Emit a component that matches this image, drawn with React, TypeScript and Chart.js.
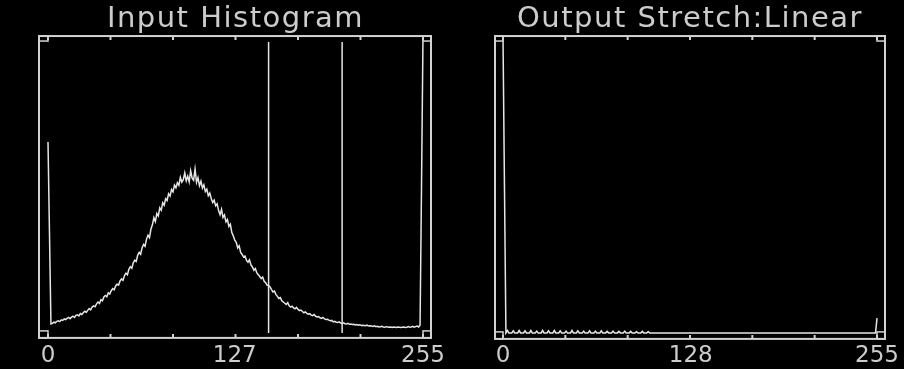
import React, { useEffect, useRef } from "react";
import { Chart, registerables } from "chart.js";

Chart.register(...registerables);

// ---- data ----
const inputTitle = "Input Histogram";
const outputTitle = "Output Stretch:Linear";
const inputTickLabels = [0, 127, 255];
const outputTickLabels = [0, 128, 255];
const inputMarkers = [150, 200];
const markerTop = 98;
const binMax = 255;
const yMax = 100;
const minorTicks = [0, 42.5, 85, 127.5, 170, 212.5, 255];

const inputCounts = [
  64.3, 33.7, 3.0, 3.2, 3.6, 3.4, 3.9, 4.1, 3.8, 4.4, 4.2, 4.7, 4.5, 4.9, 5.2, 4.8,
  5.3, 5.6, 5.2, 5.9, 6.1, 5.7, 6.5, 6.2, 6.8, 7.3, 6.9, 7.6, 8.2, 7.8, 8.7, 9.1,
  8.8, 9.8, 10.4, 9.9, 11.2, 10.8, 12.1, 12.6, 12.2, 13.5, 13.1, 14.2, 14.9, 14.5, 15.8, 16.4,
  16.1, 17.5, 18.2, 17.7, 19.3, 20.1, 19.6, 21.4, 22.3, 21.8, 23.6, 24.5, 24.1, 26.2, 27.1, 26.5,
  28.7, 29.8, 29.2, 31.6, 32.9, 32.1, 35.0, 36.4, 38.8, 37.5, 40.2, 39.4, 42.1, 41.3, 43.8, 43.0,
  45.2, 44.6, 46.9, 46.1, 48.3, 47.5, 49.8, 48.9, 50.6, 49.7, 52.4, 50.8, 51.6, 53.9, 51.2, 52.8,
  50.9, 54.6, 52.1, 51.4, 55.2, 50.7, 52.3, 49.6, 51.1, 48.8, 49.9, 47.6, 48.4, 46.2, 47.1, 45.3,
  43.9, 44.7, 42.8, 43.5, 41.2, 39.8, 41.6, 38.9, 39.7, 37.4, 38.2, 35.9, 36.6, 33.8, 32.7, 31.2,
  30.5, 28.6, 29.3, 27.1, 26.4, 25.6, 25.9, 24.4, 23.8, 24.6, 22.9, 22.2, 21.1, 21.7, 20.2, 19.6,
  19.0, 18.3, 18.8, 17.4, 16.9, 16.1, 15.9, 15.5, 14.6, 13.8, 14.1, 12.9, 12.3, 11.6, 11.9, 10.8,
  10.4, 10.0, 9.6, 10.2, 9.1, 8.7, 9.0, 8.4, 8.1, 8.6, 7.9, 7.5, 7.7, 7.2, 6.8, 7.1,
  6.6, 6.3, 6.5, 6.0, 5.8, 6.2, 5.6, 5.4, 5.5, 5.1, 4.9, 5.2, 4.7, 4.5, 4.6, 4.3,
  4.1, 4.2, 3.7, 3.9, 3.6, 3.5, 3.7, 3.3, 3.2, 3.4, 3.1, 3.0, 3.2, 2.9, 3.0, 2.8,
  2.9, 2.7, 2.8, 2.6, 2.7, 2.5, 2.6, 2.5, 2.4, 2.6, 2.3, 2.4, 2.3, 2.2, 2.4, 2.1,
  2.2, 2.0, 2.1, 2.2, 2.0, 1.9, 2.1, 2.0, 1.9, 2.0, 1.8, 2.0, 1.9, 1.8, 2.0, 1.9,
  1.8, 1.9, 2.0, 1.8, 1.9, 2.1, 1.9, 2.0, 2.2, 1.9, 2.1, 2.3, 2.0, 2.6, 49.8, 100,
];

const outputCounts = [
  100, 49.2, 0, 0.8, 0, 0, 0, 0.7, 0, 0, 0, 0.8, 0, 0, 0, 0.7,
  0, 0, 0, 0.8, 0, 0, 0, 0.6, 0, 0, 0, 0.8, 0, 0, 0, 0.7,
  0, 0, 0, 0.8, 0, 0, 0, 0.7, 0, 0, 0, 0.6, 0, 0, 0, 0.8,
  0, 0, 0, 0.7, 0, 0, 0, 0.6, 0, 0, 0, 0.7, 0, 0, 0, 0.6,
  0, 0, 0, 0.7, 0, 0, 0, 0.5, 0, 0, 0, 0.6, 0, 0, 0, 0.5,
  0, 0, 0, 0.6, 0, 0, 0, 0.5, 0, 0, 0, 0.4, 0, 0, 0, 0.5,
  0, 0, 0, 0.4, 0, 0, 0, 0, 0, 0, 0, 0, 0, 0, 0, 0,
  0, 0, 0, 0, 0, 0, 0, 0, 0, 0, 0, 0, 0, 0, 0, 0,
  0, 0, 0, 0, 0, 0, 0, 0, 0, 0, 0, 0, 0, 0, 0, 0,
  0, 0, 0, 0, 0, 0, 0, 0, 0, 0, 0, 0, 0, 0, 0, 0,
  0, 0, 0, 0, 0, 0, 0, 0, 0, 0, 0, 0, 0, 0, 0, 0,
  0, 0, 0, 0, 0, 0, 0, 0, 0, 0, 0, 0, 0, 0, 0, 0,
  0, 0, 0, 0, 0, 0, 0, 0, 0, 0, 0, 0, 0, 0, 0, 0,
  0, 0, 0, 0, 0, 0, 0, 0, 0, 0, 0, 0, 0, 0, 0, 0,
  0, 0, 0, 0, 0, 0, 0, 0, 0, 0, 0, 0, 0, 0, 0, 0,
  0, 0, 0, 0, 0, 0, 0, 0, 0, 0, 0, 0, 0, 0, 0, 5,
];

// ---- styling ----
const FG = "#e6e6e6";
const FRAME = "#d2d2d2";
const TEXT = "#cccccc";
const FONT = "'DejaVu Sans', sans-serif";
const CANVAS_W = 452;
const CANVAS_H = 380;

function toPoints(values: number[]) {
  return values.map((y, x) => ({ x, y }));
}

// Wider letter spacing only while the title is drawn (mimics the stroke font)
const spacingPlugin = {
  id: "spacing",
  beforeUpdate(chart: any) {
    (chart.ctx as any).letterSpacing = "0px";
  },
  beforeDraw(chart: any) {
    (chart.ctx as any).letterSpacing = "1.5px";
  },
  beforeDatasetsDraw(chart: any) {
    (chart.ctx as any).letterSpacing = "0px";
  },
  afterDraw(chart: any) {
    (chart.ctx as any).letterSpacing = "0px";
  },
};

const framePlugin = {
  id: "frame",
  afterDraw(chart: any, _args: any, opts: any) {
    const { ctx, chartArea: a } = chart;
    const xs = chart.scales.x;
    const L = a.left - opts.padL;
    const R = a.right + opts.padR;
    const T = a.top;
    const B = a.bottom + opts.padB;
    ctx.save();
    ctx.strokeStyle = FRAME;
    ctx.lineWidth = 2;
    ctx.strokeRect(L, T, R - L, B - T);
    ctx.lineWidth = 1.5;
    ctx.strokeRect(L, T, a.left - L, 5);
    ctx.strokeRect(a.right, T, R - a.right, 5);
    ctx.strokeRect(L, B - 7, a.left - L, 7);
    ctx.strokeRect(a.right, B - 7, R - a.right, 7);
    ctx.lineWidth = 2;
    for (const v of minorTicks) {
      const px = xs.getPixelForValue(v);
      ctx.beginPath();
      ctx.moveTo(px, T);
      ctx.lineTo(px, T + 4);
      ctx.moveTo(px, B);
      ctx.lineTo(px, B - 4);
      ctx.stroke();
    }
    ctx.restore();
  },
};

function makeConfig(
  values: number[],
  title: string,
  tickLabels: number[],
  markers: number[],
  pad: { left: number; right: number },
  frame: { padL: number; padR: number; padB: number }
): any {
  const datasets: any[] = [
    {
      data: toPoints(values),
      borderColor: FG,
      borderWidth: 1.5,
      pointRadius: 0,
      tension: 0,
      clip: 3,
    },
  ];
  for (const m of markers) {
    datasets.push({
      data: [
        { x: m, y: 0 },
        { x: m, y: markerTop },
      ],
      borderColor: FG,
      borderWidth: 1.5,
      pointRadius: 0,
      clip: 3,
    });
  }
  return {
    type: "line",
    data: { datasets },
    options: {
      animation: false,
      responsive: false,
      maintainAspectRatio: false,
      layout: { padding: { left: pad.left, right: pad.right, top: 0, bottom: 0 } },
      plugins: {
        legend: { display: false },
        tooltip: { enabled: false },
        title: {
          display: true,
          text: title,
          color: TEXT,
          font: { family: FONT, size: 29, weight: "normal", lineHeight: 1.16 },
          padding: { top: 2.4, bottom: 0 },
        },
        frame,
      },
      scales: {
        x: {
          type: "linear",
          min: 0,
          max: binMax,
          grid: { display: false, drawTicks: false },
          border: { display: false },
          afterBuildTicks: (s: any) => {
            s.ticks = tickLabels.map((v) => ({ value: v }));
          },
          ticks: {
            z: 1,
            color: TEXT,
            font: { family: FONT, size: 23, lineHeight: 1.7 },
            padding: 4,
            maxRotation: 0,
            autoSkip: false,
            callback: (v: any) => String(v),
          },
        },
        y: { display: false, min: 0, max: yMax },
      },
    },
    plugins: [spacingPlugin, framePlugin],
  };
}

export default function App() {
  const leftRef = useRef<HTMLCanvasElement>(null);
  const rightRef = useRef<HTMLCanvasElement>(null);

  useEffect(() => {
    const c1 = new Chart(
      leftRef.current!,
      makeConfig(inputCounts, inputTitle, inputTickLabels, inputMarkers, { left: 48, right: 29 }, { padL: 9, padR: 8, padB: 5 })
    );
    const c2 = new Chart(
      rightRef.current!,
      makeConfig(outputCounts, outputTitle, outputTickLabels, [], { left: 51, right: 27 }, { padL: 8, padR: 8, padB: 6 })
    );
    return () => {
      c1.destroy();
      c2.destroy();
    };
  }, []);

  return (
    <div
      style={{
        position: "fixed",
        left: 0,
        top: 0,
        width: 904,
        height: 369,
        background: "#000",
        overflow: "hidden",
      }}
    >
      <canvas ref={leftRef} width={CANVAS_W} height={CANVAS_H} style={{ position: "absolute", left: 0, top: 0 }} />
      <canvas ref={rightRef} width={CANVAS_W} height={CANVAS_H} style={{ position: "absolute", left: CANVAS_W, top: 0 }} />
    </div>
  );
}
